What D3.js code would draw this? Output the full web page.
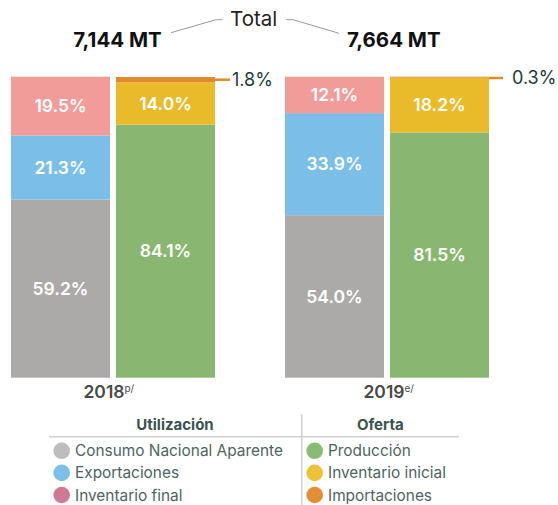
<!DOCTYPE html>
<html>
<head>
<meta charset="utf-8">
<script src="https://cdn.jsdelivr.net/npm/d3@7"></script>
<style>
  html, body { margin: 0; padding: 0; background: #fff; }
  svg { display: block; font-family: Inter, "Open Sans", sans-serif; }
</style>
</head>
<body>
<svg id="chart" width="558" height="505"></svg>
<script>
// Balance of supply and use, percent of total (MT)
const years = ["2018", "2019"];
const yearMarks = ["p/", "e/"];
const totals = ["7,144 MT", "7,664 MT"];
const sides = ["Utilización", "Oferta"];

// Utilización
const consumoNacional = [59.2, 54.0];
const exportaciones = [21.3, 33.9];
const inventarioFinal = [19.5, 12.1];
// Oferta
const produccion = [84.1, 81.5];
const inventarioInicial = [14.0, 18.2];
const importaciones = [1.8, 0.3];

const utilNames = ["Consumo Nacional Aparente", "Exportaciones", "Inventario final"];
const ofertaNames = ["Producción", "Inventario inicial", "Importaciones"];

const barColors = {
  "Consumo Nacional Aparente": "#abaaa8",
  "Exportaciones": "#7bbfe8",
  "Inventario final": "#f19c98",
  "Producción": "#89b771",
  "Inventario inicial": "#e9bb2a",
  "Importaciones": "#df8a2b"
};
const legendColors = {
  "Consumo Nacional Aparente": "#bdbdbd",
  "Exportaciones": "#7cc0ea",
  "Inventario final": "#cf7a95",
  "Producción": "#88bb74",
  "Inventario inicial": "#ecc23a",
  "Importaciones": "#e38e35"
};

const svg = d3.select("#chart");

const x0 = d3.scaleBand().domain(years).range([11, 489]).paddingInner(0.2555).paddingOuter(0);
const x1 = d3.scaleBand().domain(sides).range([0, x0.bandwidth()]).paddingInner(0.0571).paddingOuter(0);
const y = d3.scaleLinear().domain([0, 100]).range([377.7, 76.7]);

const rows = years.map((yr, i) => ({
  year: yr,
  "Consumo Nacional Aparente": consumoNacional[i],
  "Exportaciones": exportaciones[i],
  "Inventario final": inventarioFinal[i],
  "Producción": produccion[i],
  "Inventario inicial": inventarioInicial[i],
  "Importaciones": importaciones[i]
}));

const stacks = [
  { side: "Utilización", series: d3.stack().keys(utilNames)(rows) },
  { side: "Oferta", series: d3.stack().keys(ofertaNames)(rows) }
];

const fmt = v => v.toFixed(1) + "%";
const bars = svg.append("g");
// small segments get an outside label on a short leader
const leaderLen = [15, 14];
const leaderGap = [2, 9];

stacks.forEach(st => {
  st.series.forEach(s => {
    s.forEach((d, i) => {
      const bx = x0(years[i]) + x1(st.side);
      const top = y(d[1]), bot = y(d[0]);
      bars.append("rect")
        .attr("x", bx).attr("y", top)
        .attr("width", x1.bandwidth()).attr("height", bot - top)
        .attr("fill", barColors[s.key]);
      const v = d[1] - d[0];
      if (v >= 5) {
        bars.append("text")
          .attr("x", bx + x1.bandwidth() / 2)
          .attr("y", (top + bot) / 2)
          .attr("dy", "0.36em")
          .attr("text-anchor", "middle")
          .attr("fill", "#fff")
          .attr("font-size", 17.5)
          .attr("font-weight", 600)
          .text(fmt(v));
      } else {
        const my = Math.max((top + bot) / 2, 78);
        const ex = bx + x1.bandwidth();
        bars.append("line")
          .attr("x1", ex).attr("x2", ex + leaderLen[i])
          .attr("y1", my).attr("y2", my)
          .attr("stroke", barColors[s.key]).attr("stroke-width", 2.5);
        bars.append("text")
          .attr("x", ex + leaderLen[i] + leaderGap[i]).attr("y", my)
          .attr("dy", "0.36em")
          .attr("fill", "#1d3b36")
          .attr("font-size", 18)
          .text(fmt(v));
      }
    });
  });
});

// Year labels with superscript status marks
const yearLabelX = [104, 384];
years.forEach((yr, i) => {
  svg.append("text")
    .attr("x", yearLabelX[i]).attr("y", 397.7)
    .attr("text-anchor", "middle")
    .attr("fill", "#4a4a4a")
    .attr("font-size", 17.5)
    .attr("font-weight", 600)
    .text(yr);
  svg.append("text")
    .attr("x", yearLabelX[i] + 20.5).attr("y", 392)
    .attr("fill", "#4a4a4a")
    .attr("font-size", 10)
    .text(yearMarks[i]);
});

// Totals header
const totalX = [117.5, 393.8];
totals.forEach((t, i) => {
  svg.append("text")
    .attr("x", totalX[i]).attr("y", 46.6)
    .attr("text-anchor", "middle")
    .attr("fill", "#111")
    .attr("font-size", 20.5)
    .attr("font-weight", 700)
    .text(t);
});
svg.append("text")
  .attr("x", 253.7).attr("y", 25.7)
  .attr("text-anchor", "middle")
  .attr("fill", "#222")
  .attr("font-size", 20.5)
  .text("Total");
const bracket = d3.line();
svg.append("path")
  .attr("d", bracket([[171, 32.7], [216, 19.7], [222.5, 19.7]]))
  .attr("fill", "none").attr("stroke", "#9a9a9a").attr("stroke-width", 1);
svg.append("path")
  .attr("d", bracket([[286, 19.7], [293, 19.7], [339, 33.3]]))
  .attr("fill", "none").attr("stroke", "#9a9a9a").attr("stroke-width", 1);

// Legend
const lg = svg.append("g");
lg.append("line").attr("x1", 49).attr("x2", 459).attr("y1", 436.7).attr("y2", 436.7)
  .attr("stroke", "#cfcfcf").attr("stroke-width", 1.5);
lg.append("line").attr("x1", 301.7).attr("x2", 301.7).attr("y1", 414).attr("y2", 505)
  .attr("stroke", "#cfcfcf").attr("stroke-width", 1.5);

const legendCols = [
  { head: "Utilización", names: utilNames, cx: 61.7, tx: 75, hx: 175 },
  { head: "Oferta", names: ofertaNames, cx: 314.7, tx: 328, hx: 380.3 }
];
legendCols.forEach(col => {
  lg.append("text")
    .attr("x", col.hx).attr("y", 430)
    .attr("text-anchor", "middle")
    .attr("fill", "#3c524e")
    .attr("font-size", 15)
    .attr("font-weight", 700)
    .text(col.head);
  col.names.forEach((n, j) => {
    const cy = 450.8 + j * 22.1;
    lg.append("circle").attr("cx", col.cx).attr("cy", cy).attr("r", 8.3)
      .attr("fill", legendColors[n]);
    lg.append("text")
      .attr("x", col.tx).attr("y", cy)
      .attr("dy", "0.36em")
      .attr("fill", "#4e6460")
      .attr("font-size", 15.4)
      .text(n);
  });
});
</script>
</body>
</html>
